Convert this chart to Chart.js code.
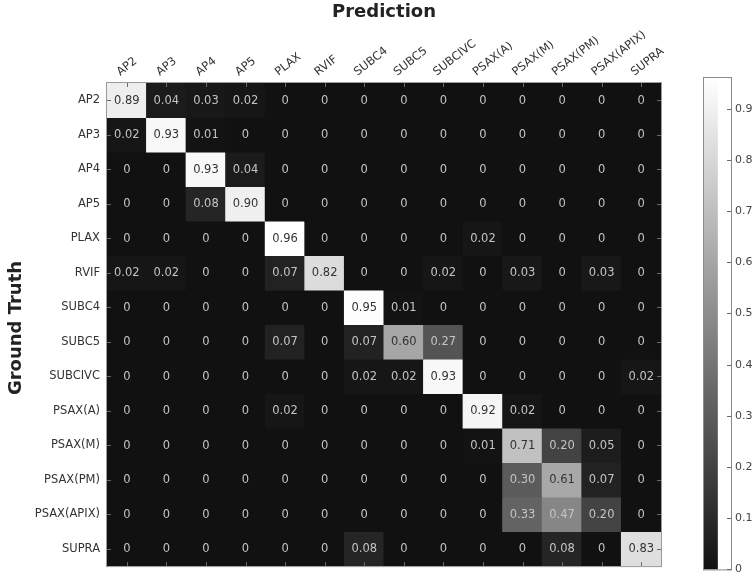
<!DOCTYPE html>
<html>
<head>
<meta charset="utf-8">
<script src="https://cdn.jsdelivr.net/npm/chart.js@4.4.1/dist/chart.umd.min.js"></script>
<style>
  html, body { margin: 0; padding: 0; background: #fff; }
  #wrap { position: relative; width: 756px; height: 580px; }
  #main { position: absolute; left: 0; top: 0; }
  #cbar { position: absolute; left: 690px; top: 0; }
</style>
</head>
<body>
<div id="wrap">
  <canvas id="main" width="756" height="580"></canvas>
  <canvas id="cbar" width="66" height="580"></canvas>
</div>
<script>
const predLabels = ['AP2','AP3','AP4','AP5','PLAX','RVIF','SUBC4','SUBC5','SUBCIVC','PSAX(A)','PSAX(M)','PSAX(PM)','PSAX(APIX)','SUPRA'];
const truthLabels = ['AP2','AP3','AP4','AP5','PLAX','RVIF','SUBC4','SUBC5','SUBCIVC','PSAX(A)','PSAX(M)','PSAX(PM)','PSAX(APIX)','SUPRA'];

const rowAP2      = [0.89,0.04,0.03,0.02,0,0,0,0,0,0,0,0,0,0];
const rowAP3      = [0.02,0.93,0.01,0,0,0,0,0,0,0,0,0,0,0];
const rowAP4      = [0,0,0.93,0.04,0,0,0,0,0,0,0,0,0,0];
const rowAP5      = [0,0,0.08,0.90,0,0,0,0,0,0,0,0,0,0];
const rowPLAX     = [0,0,0,0,0.96,0,0,0,0,0.02,0,0,0,0];
const rowRVIF     = [0.02,0.02,0,0,0.07,0.82,0,0,0.02,0,0.03,0,0.03,0];
const rowSUBC4    = [0,0,0,0,0,0,0.95,0.01,0,0,0,0,0,0];
const rowSUBC5    = [0,0,0,0,0.07,0,0.07,0.60,0.27,0,0,0,0,0];
const rowSUBCIVC  = [0,0,0,0,0,0,0.02,0.02,0.93,0,0,0,0,0.02];
const rowPSAXA    = [0,0,0,0,0.02,0,0,0,0,0.92,0.02,0,0,0];
const rowPSAXM    = [0,0,0,0,0,0,0,0,0,0.01,0.71,0.20,0.05,0];
const rowPSAXPM   = [0,0,0,0,0,0,0,0,0,0,0.30,0.61,0.07,0];
const rowPSAXAPIX = [0,0,0,0,0,0,0,0,0,0,0.33,0.47,0.20,0];
const rowSUPRA    = [0,0,0,0,0,0,0.08,0,0,0,0,0.08,0,0.83];

const matrix = [rowAP2,rowAP3,rowAP4,rowAP5,rowPLAX,rowRVIF,rowSUBC4,rowSUBC5,rowSUBCIVC,rowPSAXA,rowPSAXM,rowPSAXPM,rowPSAXAPIX,rowSUPRA];
const colorbarTicks = [0,0.1,0.2,0.3,0.4,0.5,0.6,0.7,0.8,0.9];
const cmax = 0.96;

const G0 = 17, G1 = 255;
function grayOf(v) {
  const t = Math.max(0, Math.min(1, v / cmax));
  const g = Math.round(G0 + (G1 - G0) * t);
  return 'rgb(' + g + ',' + g + ',' + g + ')';
}

const datasets = matrix.map((row, r) => ({
  label: truthLabels[r],
  data: row.map(() => [r, r + 1]),
  backgroundColor: (ctx) => grayOf(row[ctx.dataIndex]),
  borderWidth: 0,
  inflateAmount: 0.5,
  barPercentage: 1.0,
  categoryPercentage: 1.0,
  grouped: false
}));

const cellText = {
  id: 'cellText',
  beforeDatasetsDraw(chart) {
    const c = chart.ctx, a = chart.chartArea;
    c.save();
    c.fillStyle = grayOf(0);
    c.fillRect(a.left, a.top, a.right - a.left, a.bottom - a.top);
    c.restore();
  },
  afterDatasetsDraw(chart) {
    const c = chart.ctx;
    c.save();
    c.font = '11.5px "DejaVu Sans"';
    c.textAlign = 'center';
    c.textBaseline = 'middle';
    chart.data.datasets.forEach((ds, r) => {
      const meta = chart.getDatasetMeta(r);
      meta.data.forEach((el, j) => {
        const v = matrix[r][j];
        const txt = v === 0 ? '0' : v.toFixed(2);
        c.fillStyle = v >= 0.5 ? '#333333' : '#c4c4c4';
        c.fillText(txt, el.x, (el.y + el.base) / 2 + 0.5);
      });
    });
    c.restore();
  },
  afterDraw(chart) {
    const c = chart.ctx;
    const a = chart.chartArea;
    c.save();
    c.strokeStyle = '#6a6a6a';
    c.lineWidth = 1;
    const xs = chart.scales.x, ys = chart.scales.y;
    for (let i = 0; i < predLabels.length; i++) {
      const x = Math.round(xs.getPixelForTick(i)) + 0.5;
      c.beginPath(); c.moveTo(x, a.top); c.lineTo(x, a.top + 4); c.stroke();
      c.beginPath(); c.moveTo(x, a.bottom); c.lineTo(x, a.bottom - 4); c.stroke();
    }
    for (let i = 0; i < truthLabels.length; i++) {
      const y = Math.round(ys.getPixelForValue(i + 0.5)) + 0.5;
      c.beginPath(); c.moveTo(a.left, y); c.lineTo(a.left + 4, y); c.stroke();
      c.beginPath(); c.moveTo(a.right, y); c.lineTo(a.right - 4, y); c.stroke();
    }
    c.strokeStyle = '#9a9a9a';
    c.strokeRect(a.left - 0.5, a.top - 0.5, a.right - a.left + 1, a.bottom - a.top + 1);
    c.fillStyle = '#222222';
    c.font = 'bold 18px "DejaVu Sans"';
    c.textAlign = 'center';
    c.textBaseline = 'middle';
    c.fillText('Prediction', (a.left + a.right) / 2, 12);
    c.translate(16, 328);
    c.rotate(-Math.PI / 2);
    c.fillText('Ground Truth', 0, 0);
    c.restore();
  }
};

new Chart(document.getElementById('main'), {
  type: 'bar',
  data: { labels: predLabels, datasets },
  options: {
    responsive: false,
    animation: false,
    layout: { padding: { left: 0, right: 95, top: 0, bottom: 8 } },
    plugins: { legend: { display: false }, tooltip: { enabled: false } },
    scales: {
      x: {
        type: 'category',
        position: 'top',
        offset: true,
        grid: { display: false, drawTicks: false },
        border: { display: false },
        ticks: {
          minRotation: 38, maxRotation: 38, padding: 4,
          autoSkip: false,
          color: '#333333',
          font: { family: 'DejaVu Sans', size: 11.5 }
        },
        afterFit(s) { s.height = 83; }
      },
      y: {
        type: 'linear',
        min: 0, max: 14,
        reverse: true,
        grid: { display: false, drawTicks: false },
        border: { display: false },
        afterBuildTicks(s) { s.ticks = truthLabels.map((_, i) => ({ value: i + 0.5 })); },
        ticks: {
          padding: 7,
          color: '#333333',
          font: { family: 'DejaVu Sans', size: 11.5 },
          callback: (v, i) => truthLabels[i]
        },
        afterFit(s) { s.width = 107; }
      }
    }
  },
  plugins: [cellText]
});

const cbBorder = {
  id: 'cbBorder',
  afterDraw(chart) {
    const c = chart.ctx, a = chart.chartArea;
    c.save();
    c.strokeStyle = '#8a8a8a';
    c.lineWidth = 1;
    c.strokeRect(a.left - 0.5, a.top - 0.5, a.right - a.left + 1, a.bottom - a.top + 1);
    const ys = chart.scales.y;
    c.strokeStyle = '#6a6a6a';
    colorbarTicks.forEach(t => {
      const y = Math.round(ys.getPixelForValue(t)) + 0.5;
      c.beginPath(); c.moveTo(a.right, y); c.lineTo(a.right - 4, y); c.stroke();
    });
    c.restore();
  }
};

new Chart(document.getElementById('cbar'), {
  type: 'bar',
  data: {
    labels: [''],
    datasets: [{
      data: [[0, cmax]],
      borderWidth: 0,
      barPercentage: 1.0,
      categoryPercentage: 1.0,
      backgroundColor: (ctx) => {
        const a = ctx.chart.chartArea;
        if (!a) return '#888';
        const g = ctx.chart.ctx.createLinearGradient(0, a.bottom, 0, a.top);
        g.addColorStop(0, grayOf(0));
        g.addColorStop(1, grayOf(cmax));
        return g;
      }
    }]
  },
  options: {
    responsive: false,
    animation: false,
    layout: { padding: { left: 14, right: 0, top: 78, bottom: 7 } },
    plugins: { legend: { display: false }, tooltip: { enabled: false } },
    scales: {
      x: { display: false, offset: false },
      y: {
        type: 'linear',
        position: 'right',
        min: 0, max: cmax,
        grid: { display: false, drawTicks: false },
        border: { display: false },
        afterBuildTicks(s) { s.ticks = colorbarTicks.map(v => ({ value: v })); },
        ticks: {
          padding: 4,
          color: '#444444',
          font: { family: 'DejaVu Sans', size: 11 },
          callback: (v) => v === 0 ? '0' : Number(v).toFixed(1)
        },
        afterFit(s) { s.width = 25; }
      }
    }
  },
  plugins: [cbBorder]
});
</script>
</body>
</html>
